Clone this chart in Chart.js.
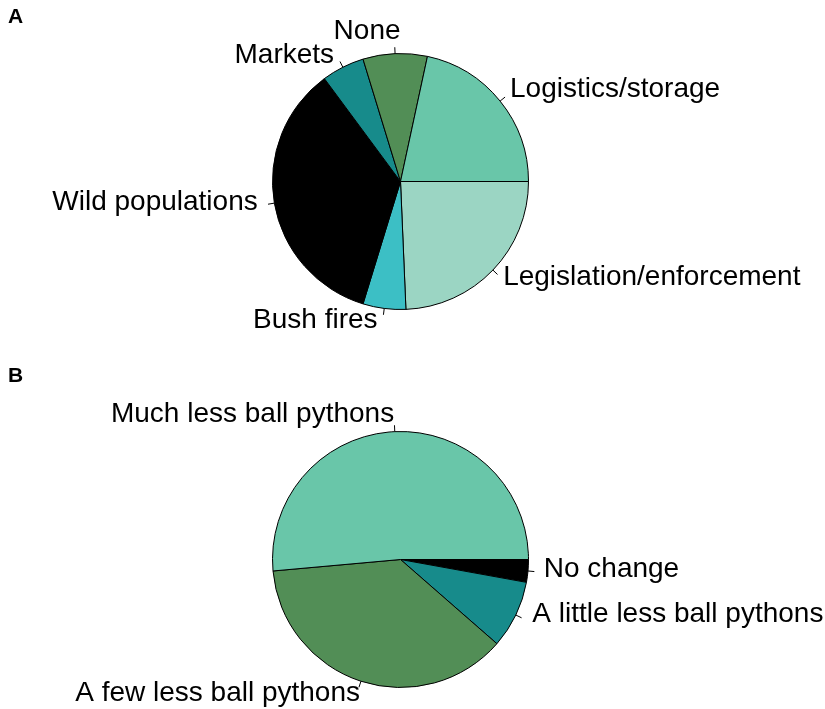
<!DOCTYPE html>
<html>
<head>
<meta charset="utf-8">
<script src="https://cdn.jsdelivr.net/npm/chart.js@4"></script>
<style>
  html, body { margin: 0; padding: 0; background: #ffffff; }
  #wrap { position: relative; width: 825px; height: 709px; overflow: hidden; }
  canvas { position: absolute; left: 0; }
  #cA { top: 0; }
  #cB { top: 360px; }
</style>
</head>
<body>
<div id="wrap">
  <canvas id="cA" width="825" height="360"></canvas>
  <canvas id="cB" width="825" height="349"></canvas>
</div>
<script>
// ---- Data (panel A) ----
const catsA = ["Legislation/enforcement", "Bush fires", "Wild populations", "Markets", "None", "Logistics/storage"];
const valsA = [9, 2, 13, 2, 3, 8];

// ---- Data (panel B) ----
const catsB = ["No change", "A little less ball pythons", "A few less ball pythons", "Much less ball pythons"];
const valsB = [1, 3, 13, 18];

// ---- Styles ----
const colorsA = ["#9bd5c3", "#3cbfc5", "#000000", "#178b8b", "#528e56", "#69c6a9"];
const colorsB = ["#000000", "#178b8b", "#528e56", "#69c6a9"];
// small label nudges (px) per slice, styling only
const nudgeA = [[1, -2], [-5, -1], [-4, -3], [-3, 0], [6, -10], [0, -4]];
const nudgeB = [[3, -3], [5, -6], [3, 0], [0, -5]];

const FONT = '28px "Liberation Sans", Arial, Helvetica, sans-serif';

function labelPlugin(panel, nudges, panelBaseline) {
  return {
    id: 'outsideLabels' + panel,
    afterDatasetsDraw(chart) {
      const ctx = chart.ctx;
      const meta = chart.getDatasetMeta(0);
      const labels = chart.data.labels;
      ctx.save();
      ctx.font = FONT;
      ctx.fillStyle = '#000';
      ctx.strokeStyle = '#000';
      ctx.lineWidth = 1;
      meta.data.forEach((arc, i) => {
        const p = arc.getProps(['x', 'y', 'startAngle', 'endAngle', 'outerRadius'], true);
        const mid = (p.startAngle + p.endAngle) / 2;
        const c = Math.cos(mid), s = Math.sin(mid);
        const r = p.outerRadius;
        ctx.beginPath();
        ctx.moveTo(p.x + r * c, p.y + r * s);
        ctx.lineTo(p.x + 1.05 * r * c, p.y + 1.05 * r * s);
        ctx.stroke();
        const n = nudges[i] || [0, 0];
        ctx.textAlign = c < 0 ? 'right' : 'left';
        ctx.textBaseline = 'middle';
        ctx.fillText(labels[i], p.x + 1.1 * r * c + n[0], p.y + 1.1 * r * s + n[1]);
      });
      ctx.font = 'bold 21px "Liberation Sans", Arial, Helvetica, sans-serif';
      ctx.textAlign = 'left';
      ctx.textBaseline = 'alphabetic';
      ctx.fillText(panel, 8, panelBaseline);
      ctx.restore();
    }
  };
}

function makePie(id, cats, vals, colors, pad, panel, nudges, panelBaseline) {
  return new Chart(document.getElementById(id), {
    type: 'pie',
    data: {
      labels: cats,
      datasets: [{
        data: vals,
        backgroundColor: colors,
        borderColor: '#000000',
        borderWidth: 1,
        borderAlign: 'center'
      }]
    },
    options: {
      responsive: false,
      animation: false,
      devicePixelRatio: 1,
      rotation: 90,
      layout: { padding: pad },
      plugins: { legend: { display: false }, tooltip: { enabled: false } }
    },
    plugins: [labelPlugin(panel, nudges, panelBaseline)]
  });
}

makePie('cA', catsA, valsA, colorsA, { left: 272, right: 296, top: 53, bottom: 50 }, 'A', nudgeA, 23);
makePie('cB', catsB, valsB, colorsB, { left: 272, right: 296, top: 71, bottom: 21 }, 'B', nudgeB, 22);
</script>
</body>
</html>
